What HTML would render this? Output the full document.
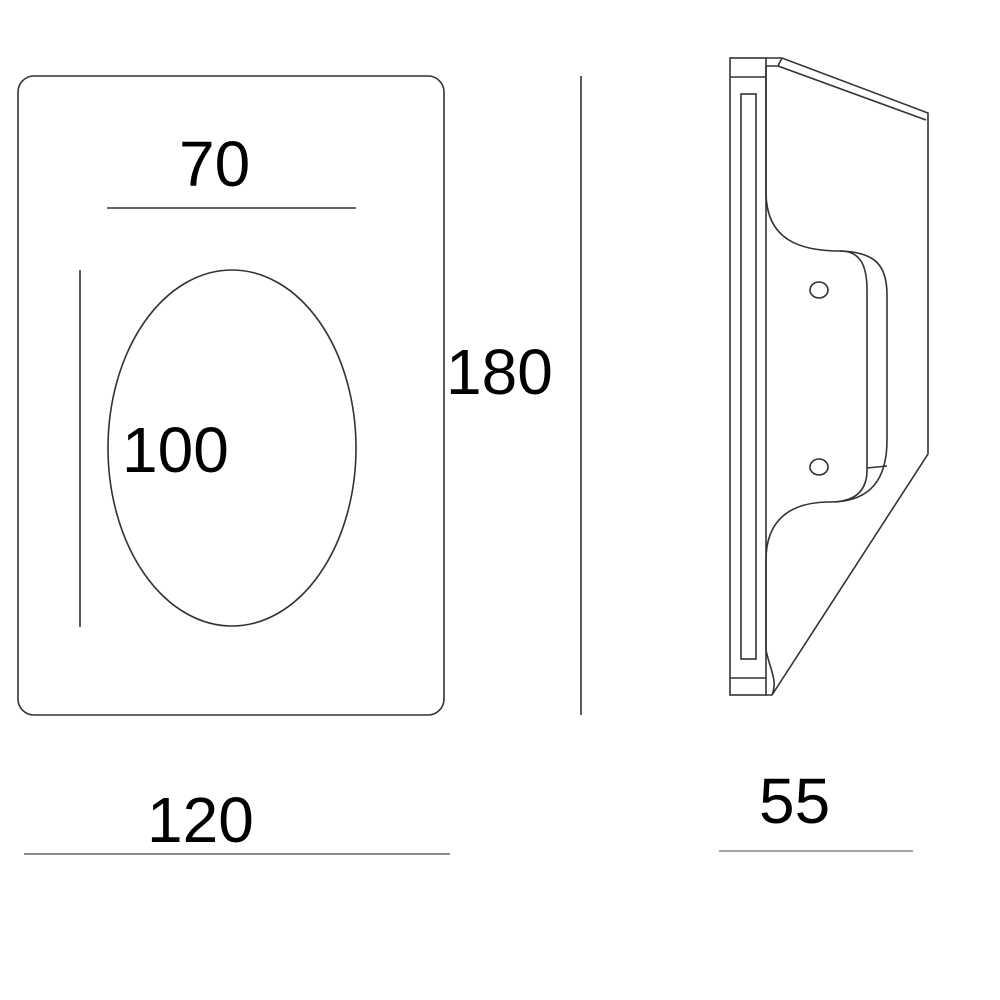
<!DOCTYPE html>
<html><head><style>
html,body{margin:0;padding:0;background:#fff;}
svg{display:block}
text{font-family:"Liberation Sans",sans-serif;font-size:64px;fill:#000}
</style></head><body>
<svg width="1000" height="1000" viewBox="0 0 1000 1000" xmlns="http://www.w3.org/2000/svg">
<g fill="none" stroke="#333" stroke-width="1.6">
<rect x="18" y="76" width="426" height="639" rx="16"/>
<ellipse cx="232" cy="448" rx="124" ry="178"/>
<line x1="107" y1="208" x2="356" y2="208"/>
<line x1="80" y1="270" x2="80" y2="627"/>
<line x1="581" y1="76" x2="581" y2="715"/>
<line x1="24" y1="854" x2="450" y2="854" stroke="#666"/>
<line x1="719" y1="851" x2="913" y2="851" stroke="#888"/>
<rect x="730" y="58" width="36" height="637"/>
<line x1="730" y1="77" x2="766" y2="77"/>
<line x1="730" y1="678" x2="766" y2="678"/>
<rect x="741" y="94" width="15" height="565"/>
<path d="M766 58 L782 58 L928 113 L928 454 L772 695 L766 695"/>
<path d="M766 66 L778 66 L782 58 M778 66 L926 120"/>
<path d="M766 66 L766 192 C766 240 800 251 840 251 C860 251 867 265 867 290 L867 470 C867 495 850 502 830 502 C790 502 766 520 766 560 L766 650 C770 670 778 680 772 695"/>
<path d="M840 251 C875 252 887 265 887 295 L887 440 C887 480 870 500 835 502"/>
<line x1="867" y1="468" x2="887" y2="466"/>
<ellipse cx="819" cy="290" rx="9" ry="8"/>
<ellipse cx="819" cy="467" rx="9" ry="8"/>
</g>
<text x="179" y="186">70</text>
<text x="122" y="472">100</text>
<text x="446" y="394">180</text>
<text x="147" y="842">120</text>
<text x="759" y="823">55</text>
</svg>
</body></html>
